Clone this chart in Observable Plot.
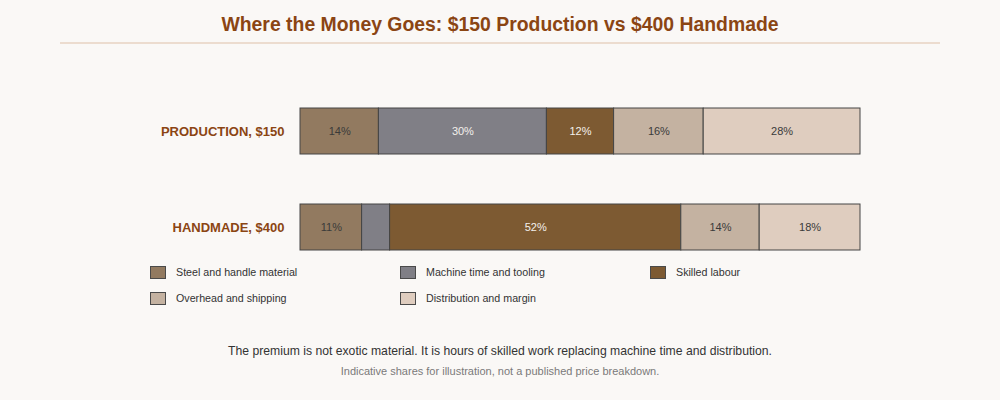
<!DOCTYPE html>
<html>
<head>
<meta charset="utf-8">
<script src="https://cdn.jsdelivr.net/npm/d3@7"></script>
<script src="https://cdn.jsdelivr.net/npm/@observablehq/plot@0.6"></script>
<style>
  html, body { margin: 0; padding: 0; background: #faf8f6; }
  body { width: 1000px; height: 400px; overflow: hidden; font-family: "Liberation Sans", Arial, sans-serif; }
  .hdr { margin: 0 60px; padding-top: 13px; padding-bottom: 7px; border-bottom: 2px solid #ecdccf;
         text-align: center; font-size: 19.4px; line-height: 22px; font-weight: bold; color: #8b4513; }
  #chart { height: 216px; }
  .legend { margin-left: 150px; width: 750px; display: flex; flex-wrap: wrap; row-gap: 12px; padding-top: 5px; }
  .item { width: 250px; height: 14px; display: flex; align-items: center; font-size: 10.7px; color: #333; }
  .sw { width: 16px; height: 13px; border: 1px solid #4a4a4a; box-sizing: border-box; margin-right: 10px; flex: none; }
  .cap { text-align: center; font-size: 12.2px; color: #333; margin-top: 38px; line-height: 16px; }
  .note { text-align: center; font-size: 11px; color: #7a7a7a; margin-top: 5px; line-height: 14px; }
</style>
</head>
<body>
<div class="hdr">Where the Money Goes: $150 Production vs $400 Handmade</div>
<div id="chart"></div>
<div class="legend" id="legend"></div>
<div class="cap">The premium is not exotic material. It is hours of skilled work replacing machine time and distribution.</div>
<div class="note">Indicative shares for illustration, not a published price breakdown.</div>
<script>
const categories = ["Steel and handle material", "Machine time and tooling", "Skilled labour", "Overhead and shipping", "Distribution and margin"];
const products = ["PRODUCTION, $150", "HANDMADE, $400"];
const productionShares = [14, 30, 12, 16, 28];
const handmadeShares = [11, 5, 52, 14, 18];
const colors = ["#927a60", "#807f86", "#7d5a32", "#c4b2a1", "#dfcdbf"];
const lightText = ["Machine time and tooling", "Skilled labour"];

const data = [];
categories.forEach((c, i) => data.push({product: products[0], category: c, share: productionShares[i]}));
categories.forEach((c, i) => data.push({product: products[1], category: c, share: handmadeShares[i]}));

const stackOpts = (extra) => Plot.stackX({x: "share", y: "product", z: "category", order: categories, ...extra});

const chart = Plot.plot({
  width: 1000,
  height: 216,
  marginLeft: 300,
  marginRight: 140,
  marginTop: 54,
  marginBottom: 0,
  style: {background: "transparent", fontFamily: "'Liberation Sans', Arial, sans-serif"},
  x: {domain: [0, 100], axis: null},
  y: {domain: products, paddingInner: 0.52, paddingOuter: 0.1, label: null},
  color: {domain: categories, range: colors},
  marks: [
    Plot.barX(data, stackOpts({fill: "category", stroke: "#444", strokeWidth: 1})),
    Plot.text(data, stackOpts({text: d => (d.share >= 8 && !lightText.includes(d.category)) ? d.share + "%" : "", fill: "#3a3a3a", fontSize: 11})),
    Plot.text(data, stackOpts({text: d => (d.share >= 8 && lightText.includes(d.category)) ? d.share + "%" : "", fill: "#f4f0ec", fontSize: 11})),
    Plot.axisY({tickSize: 0, tickPadding: 16, fontSize: 13, fontWeight: "bold", fill: "#8b4513", label: null})
  ]
});
document.getElementById("chart").appendChild(chart);

const leg = document.getElementById("legend");
categories.forEach((c, i) => {
  const it = document.createElement("div");
  it.className = "item";
  const sw = document.createElement("span");
  sw.className = "sw";
  sw.style.background = colors[i];
  const t = document.createElement("span");
  t.textContent = c;
  it.appendChild(sw);
  it.appendChild(t);
  leg.appendChild(it);
});
</script>
</body>
</html>
